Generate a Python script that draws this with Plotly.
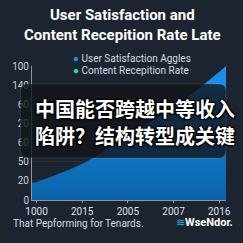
import plotly.graph_objects as go

# ---- data ----
x_labels = ["1000", "2015", "2005", "2007", "2016"]
x_ticks = [0, 1, 2, 3, 4]
series_x = [-0.1, 0, 1, 2, 3, 4, 4.15]
series_values = [13.0, 13.5, 27.0, 48.0, 69.0, 95.5, 100.0]
y_tickvals = [0, 100 / 7, 200 / 7, 300 / 7, 400 / 7, 500 / 7, 600 / 7, 100]
y_ticktext = ["0", "20", "50", "60", "20", "60", "140", "100"]
legend_names = ["User Satisfaction Aggles", "Content Recepition Rate"]
legend_colors = ["#1a8cff", "#1ee38a"]
title_text = "User Satisfaction and<br>Content Recepition Rate Late"
overlay_lines = ["中国能否跨越中等收入", "陷阱？结构转型成关键"]
footer_text = "That Pepforming for Tenards."
brand_text = "WseNdor."

BG = "#1c2430"
W, H = 243, 243
ML, MR, MT, MB = 29, 15, 66, 43
PW, PH = W - ML - MR, H - MT - MB


def px_x(p):
    return (p - ML) / PW


def px_y(p):
    return (H - MB - p) / PH


fig = go.Figure()
fig.add_trace(go.Scatter(
    x=series_x, y=series_values, mode="lines",
    line=dict(color="#1a8ae6", width=0, shape="spline", smoothing=0.8),
    fill="tozeroy",
    fillgradient=dict(type="vertical", colorscale=[[0, "#0a63ab"], [1, "#1d92ec"]]),
    name=legend_names[0], showlegend=False, hoverinfo="skip",
))

# overlay rounded box
x0, x1 = px_x(17), px_x(228)
y0, y1 = px_y(158), px_y(84)
rx, ry = 7 / PW, 7 / PH
path = (f"M {x0+rx},{y1} L {x1-rx},{y1} Q {x1},{y1} {x1},{y1-ry} "
        f"L {x1},{y0+ry} Q {x1},{y0} {x1-rx},{y0} L {x0+rx},{y0} "
        f"Q {x0},{y0} {x0},{y0+ry} L {x0},{y1-ry} Q {x0},{y1} {x0+rx},{y1} Z")
shapes = [dict(type="path", xref="paper", yref="paper", path=path,
               fillcolor="rgba(18,21,27,0.8)",
               line=dict(color="rgba(255,255,255,0.12)", width=1), layer="above")]

annotations = [
    dict(text=title_text, xref="paper", yref="paper", x=px_x(121.5), y=px_y(25.5),
         xanchor="center", yanchor="middle", showarrow=False,
         font=dict(family="Roboto", size=15, color="#ffffff", weight="bold")),
]
for i, (name, col) in enumerate(zip(legend_names, legend_colors)):
    annotations.append(dict(
        text=f"<span style='color:{col}'>●</span> {name}", xref="paper", yref="paper",
        x=px_x(69), y=px_y(58 + 12 * i), xanchor="left", yanchor="middle", showarrow=False,
        font=dict(family="Roboto", size=10, color="#d4dae1")))
for i, line in enumerate(overlay_lines):
    annotations.append(dict(
        text=line, xref="paper", yref="paper", x=px_x(134.5), y=px_y(108 + 27 * i),
        xanchor="center", yanchor="middle", showarrow=False,
        font=dict(family="Noto Sans CJK SC", size=20, color="#ffffff", weight="bold",
                  shadow="1px 1px 2px #000, -1px -1px 1px #000, 1px -1px 1px #000, -1px 1px 1px #000")))
annotations.append(dict(
    text=footer_text, xref="paper", yref="paper", x=px_x(7), y=px_y(223),
    xanchor="left", yanchor="middle", showarrow=False,
    font=dict(family="Roboto", size=10, color="#d5dbe2")))
annotations.append(dict(
    text=f"<span style='color:#22b8f0'>≋</span><b>{brand_text}</b>", xref="paper", yref="paper",
    x=px_x(237), y=px_y(222), xanchor="right", yanchor="middle", showarrow=False,
    font=dict(family="Roboto", size=11, color="#ffffff")))

fig.update_layout(
    width=W, height=H, margin=dict(l=ML, r=MR, t=MT, b=MB),
    paper_bgcolor=BG, plot_bgcolor=BG, showlegend=False,
    shapes=shapes, annotations=annotations,
    xaxis=dict(range=[-0.1, 4.15], tickvals=x_ticks, ticktext=x_labels,
               showgrid=False, zeroline=False, showline=True, linecolor="#8d96a1",
               ticks="outside", ticklen=2, tickcolor="#8d96a1",
               tickfont=dict(family="Roboto", size=10, color="#dfe3e8")),
    yaxis=dict(range=[0, 100], tickvals=y_tickvals, ticktext=y_ticktext,
               showgrid=True, gridcolor="rgba(255,255,255,0.05)", zeroline=False,
               showline=True, linecolor="#8d96a1", ticks="", ticklen=2,
               tickfont=dict(family="Roboto", size=10, color="#c9cfd6")),
)

fig.write_html("out.html")
